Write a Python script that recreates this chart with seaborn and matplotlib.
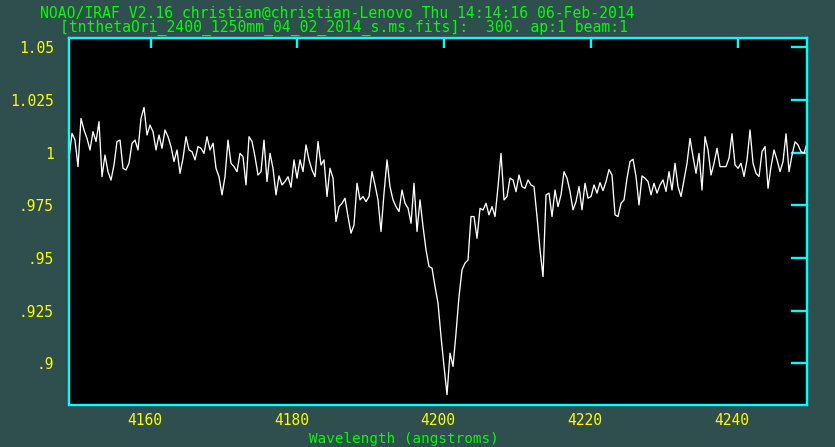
import numpy as np
import pandas as pd
import matplotlib
matplotlib.use("Agg")
import matplotlib.pyplot as plt
import matplotlib.transforms as mtransforms
import seaborn as sns

# linear dispersion (IRAF header style)
crval1 = 4148.86
cdelt1 = 0.409

# normalised flux
flux = [
    0.9973, 1.0092, 1.0060, 0.9934, 1.0163, 1.0108, 1.0068, 1.0013, 1.0100, 1.0053,
    1.0147, 0.9886, 0.9989, 0.9910, 0.9870, 0.9942, 1.0053, 1.0060, 0.9926, 0.9918,
    0.9950, 1.0045, 1.0060, 1.0013, 1.0163, 1.0215, 1.0084, 1.0131, 1.0100, 1.0013,
    1.0084, 1.0021, 1.0108, 1.0076, 1.0029, 0.9958, 1.0013, 0.9902, 0.9973, 1.0076,
    1.0013, 1.0005, 0.9966, 1.0029, 1.0021, 0.9997, 1.0076, 1.0013, 1.0045, 0.9926,
    0.9886, 0.9800, 0.9886, 1.0060, 0.9950, 0.9934, 0.9910, 0.9997, 0.9981, 0.9847,
    1.0076, 1.0053,
    0.9981, 0.9894, 0.9910, 1.0060, 0.9863, 0.9997, 0.9926, 0.9800, 0.9890, 0.9847,
    0.9863, 0.9886, 0.9836, 0.9966, 0.9879, 0.9966, 0.9910, 1.0037, 0.9966, 0.9918,
    0.9886, 1.0053, 0.9942, 0.9966, 0.9792, 0.9926, 0.9879, 0.9673, 0.9744, 0.9760,
    0.9784, 0.9697, 0.9618, 0.9657, 0.9855, 0.9776, 0.9792, 0.9768, 0.9792, 0.9910,
    0.9847, 0.9776, 0.9626, 0.9808, 0.9966, 0.9839, 0.9776, 0.9744, 0.9721, 0.9823,
    0.9760, 0.9737, 0.9665, 0.9855, 0.9626, 0.9776,
    0.9650, 0.9539, 0.9460, 0.9452, 0.9365, 0.9286, 0.9128, 0.8986, 0.8852, 0.9049,
    0.8986, 0.9144, 0.9318, 0.9444, 0.9476, 0.9491, 0.9697, 0.9697, 0.9594, 0.9736,
    0.9728, 0.9760, 0.9705, 0.9744, 0.9697, 0.9839, 0.9997, 0.9776, 0.9792, 0.9879,
    0.9871, 0.9815, 0.9894, 0.9839, 0.9831, 0.9871, 0.9847, 0.9839, 0.9697,
    0.9539, 0.9412, 0.9800, 0.9808, 0.9697, 0.9823, 0.9744, 0.9800, 0.9910, 0.9879,
    0.9816, 0.9729, 0.9768, 0.9839, 0.9729, 0.9855, 0.9784, 0.9792, 0.9847, 0.9808,
    0.9858, 0.9820, 0.9863, 0.9920, 0.9894, 0.9705, 0.9697, 0.9760, 0.9776,
    0.9879, 0.9958, 0.9969, 0.9887, 0.9752, 0.9890, 0.9879, 0.9863, 0.9800, 0.9855,
    0.9808, 0.9847, 0.9871, 0.9816, 0.9910, 0.9823, 0.9950, 0.9839, 0.9792, 0.9871,
    0.9950, 1.0068, 0.9981, 0.9902, 0.9997, 0.9823, 1.0076, 1.0013, 0.9894, 0.9950,
    1.0021, 0.9934, 0.9934, 0.9934, 0.9974, 1.0090, 0.9942, 0.9926, 0.9950, 0.9887,
    0.9966, 1.0108, 0.9950, 0.9902, 0.9887, 1.0005, 1.0029, 0.9831, 0.9934, 1.0013,
    0.9966, 0.9910, 0.9958, 1.0090, 0.9910, 0.9989, 1.0052, 1.0037, 1.0005, 0.9997,
    1.0045,
]

xticks = [4160, 4180, 4200, 4220, 4240]
yticks = [1.05, 1.025, 1.0, 0.975, 0.95, 0.925, 0.9]
ytick_labels = ["1.05", "1.025", "1", ".975", ".95", ".925", ".9"]

header1 = "NOAO/IRAF V2.16 christian@christian-Lenovo Thu 14:14:16 06-Feb-2014"
header2 = "[tnthetaOri_2400_1250mm_04_02_2014_s.ms.fits]:  300. ap:1 beam:1"
xlabel = "Wavelength (angstroms)"

wave = crval1 + cdelt1 * np.arange(len(flux))
df = pd.DataFrame({"wave": wave, "flux": flux})

# colours of the xgterm display
bg = "#2f4f4f"
cyan = "#00ffff"
yellow = "#ffff00"
green = "#00ff00"

sns.set_style("dark", {"axes.facecolor": "black", "figure.facecolor": bg})
plt.rcParams["font.family"] = ["DejaVu Sans Mono", "DejaVu Sans"]

W, H = 835, 447
fig = plt.figure(figsize=(W / 100, H / 100), dpi=100, facecolor=bg)
ax = fig.add_axes([69 / W, 1 - 404.5 / H, (807 - 69) / W, (404.5 - 38.3) / H])
ax.set_facecolor("black")

sns.lineplot(data=df, x="wave", y="flux", ax=ax, color="white", lw=0.95)

ax.set_xlim(4148.86, 4249.47)
ax.set_ylim(0.8805, 1.0543)
ax.set(xlabel="", ylabel="")
ax.grid(False)

for s in ax.spines.values():
    s.set_color(cyan)
    s.set_linewidth(1.7)

ax.set_xticks(xticks)
ax.set_yticks(yticks, ytick_labels)
ax.tick_params(axis="both", which="both", direction="in", color=cyan, width=1.7,
               top=True, right=True, labelcolor=yellow, labelsize=10.5)
ax.tick_params(axis="x", length=7.5, pad=6)
ax.tick_params(axis="y", length=11.5, pad=11)
ax.minorticks_off()

# IRAF puts the x labels a bit to the left of the tick
shift = mtransforms.ScaledTranslation(-6 / 100, 0, fig.dpi_scale_trans)
for lab in ax.get_xticklabels():
    lab.set_transform(lab.get_transform() + shift)

fig.text(40 / W, 1 - 13 / H, header1, color=green, fontsize=10.6, ha="left", va="center")
fig.text(60 / W, 1 - 28 / H, header2, color=green, fontsize=10.6, ha="left", va="center")
# kept fully inside the figure (the reference clips it at the bottom edge)
fig.text(309 / W, 1 - 446 / H, xlabel, color=green, fontsize=10.3, ha="left", va="bottom")

fig.savefig("out.png", dpi=100, facecolor=bg)
